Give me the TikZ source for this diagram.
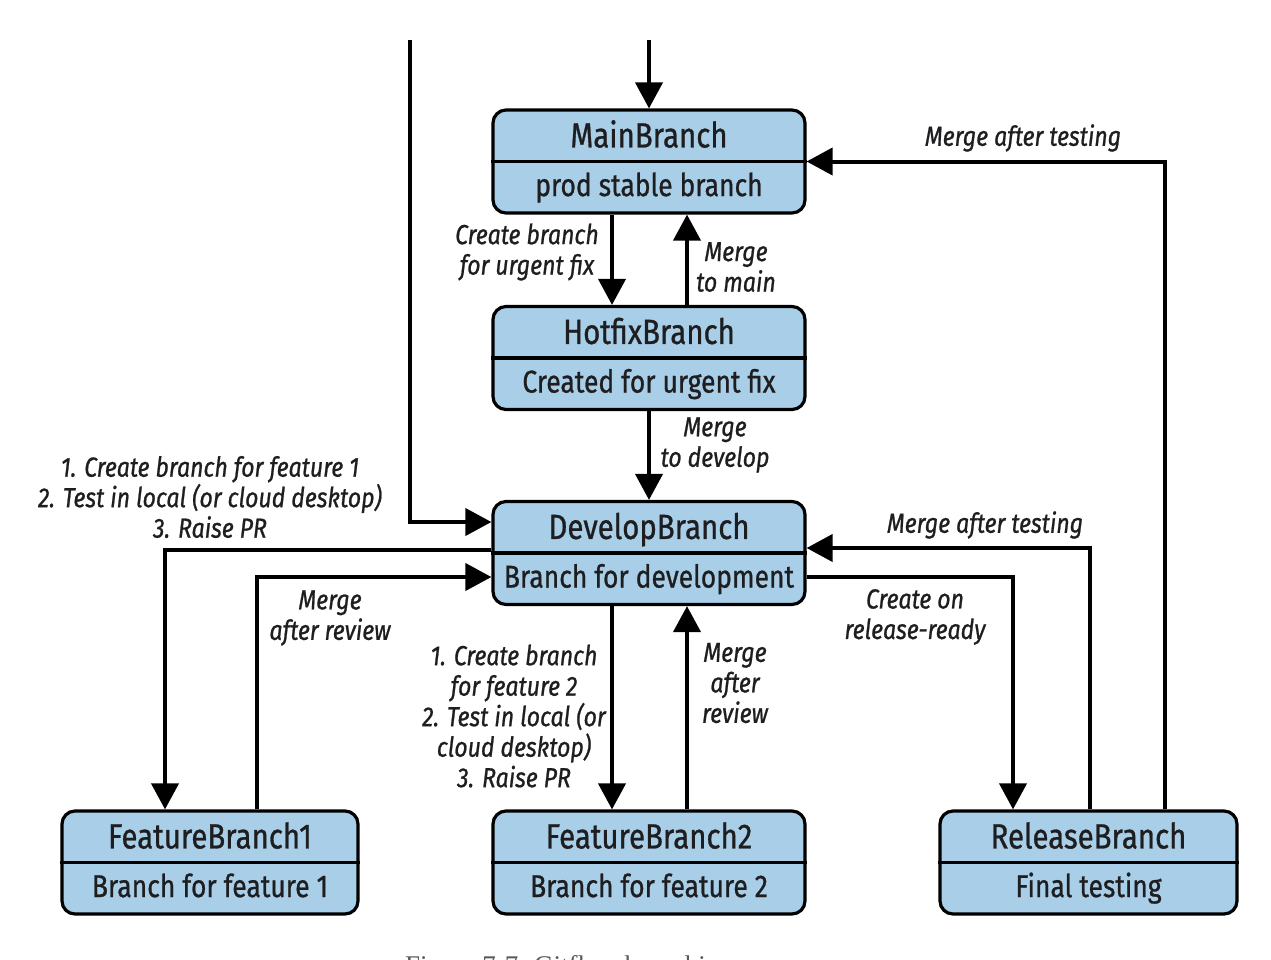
\documentclass[tikz,border=0pt]{standalone}
\usepackage{fontspec}
\setmainfont{Fira Sans}[FakeStretch=0.84, FakeBold=0.8]
\newfontfamily\capfont{Liberation Serif}
\usetikzlibrary{arrows.meta,calc}
\definecolor{boxfill}{RGB}{169,207,232}
\definecolor{inkdark}{RGB}{30,30,32}
\definecolor{capgray}{RGB}{90,90,90}
\tikzset{
  branchbox/.style={draw=black, line width=3.2pt, fill=boxfill, rounded corners=13pt,
    minimum height=103pt, inner sep=0pt},
  titletext/.style={text=inkdark, font=\fontsize{35}{40}\selectfont, inner sep=0pt,
    text height=25pt, text depth=0pt},
  subtext/.style={text=inkdark, font=\fontsize{31.5}{40}\selectfont, inner sep=0pt,
    text height=23pt, text depth=7pt},
  lbl/.style={text=inkdark, font=\fontsize{27.5}{30.5}\selectfont\itshape, align=center, inner sep=0pt},
  flow/.style={line width=4pt, -{Triangle[length=26pt,width=27pt]}},
}
% one branch: outlined box split in two halves, name on top, purpose below
\newcommand\branch[5]{%
  \node[branchbox, minimum width=#3] (#1) at (#2) {};
  \draw[line width=3.2pt] (#1.west) -- (#1.east);
  \node[titletext] (#1-name) at ($(#1.center)!0.5!(#1.north)$) {#4};
  \node[subtext] (#1-role) at ($(#1.center)!0.5!(#1.south)$) {#5};
}
\begin{document}
\begin{tikzpicture}[x=1pt, y=-1pt]
\useasboundingbox (0,0) rectangle (1271,959);
\fill[white] (0,0) rectangle (1271,959);

\branch{main}{649,161.5}{312pt}{MainBranch}{prod stable branch}
\branch{hot}{649,358}{312pt}{HotfixBranch}{Created for urgent fix}
\branch{dev}{649,553}{312pt}{DevelopBranch}{Branch for development}
\branch{fone}{210,862.5}{296pt}{FeatureBranch1}{Branch for feature 1}
\branch{ftwo}{649,862.5}{312pt}{FeatureBranch2}{Branch for feature 2}
\branch{rel}{1088.5,862.5}{297pt}{ReleaseBranch}{Final testing}

% incoming lines from above
\coordinate (topin) at (649,40);
\coordinate (sidein) at (410,40);
\draw[flow] (topin) -- (main.north);
\draw[flow] (sidein) |- ($(dev.west)+(0,-31)$);

% hotfix cycle
\draw[flow] ($(main.south)+(-37,0)$) -- ($(hot.north)+(-37,0)$);
\draw[flow] ($(hot.north)+(38,0)$) -- ($(main.south)+(38,0)$);
\draw[flow] (hot.south) -- (dev.north);

% feature 1
\draw[flow] ($(dev.west)+(0,-3)$) -| ($(fone.north)+(-45,0)$);
\draw[flow] ($(fone.north)+(47,0)$) |- ($(dev.west)+(0,24)$);

% feature 2
\draw[flow] ($(dev.south)+(-37,0)$) -- ($(ftwo.north)+(-37,0)$);
\draw[flow] ($(ftwo.north)+(38,0)$) -- ($(dev.south)+(38,0)$);

% release
\draw[flow] ($(dev.east)+(0,24)$) -| ($(rel.north)+(-75.5,0)$);
\draw[flow] ($(rel.north)+(1.5,0)$) |- ($(dev.east)+(0,-5)$);
\draw[flow] ($(rel.north)+(76.5,0)$) |- (main.east);

% connector labels
\node[lbl] (l-urgent) at (527,252) {Create branch\\for urgent fix};
\node[lbl] (l-tomain) at (736,267) {Merge\\to main};
\node[lbl] (l-todev) at (715,445) {Merge\\to develop};
\node[lbl] (l-f1steps) at (210,497) {1. Create branch for feature 1\\2. Test in local (or cloud desktop)\\3. Raise PR};
\node[lbl] (l-f1merge) at (330,618) {Merge\\after review};
\node[lbl] (l-f2steps) at (514,716) {1. Create branch\\for feature 2\\2. Test in local (or\\cloud desktop)\\3. Raise PR};
\node[lbl] (l-f2merge) at (735,683) {Merge\\after\\review};
\node[lbl] (l-relcreate) at (915,617) {Create on\\release-ready};
\node[lbl] (l-reldev) at (985,525) {Merge after testing};
\node[lbl] (l-relmain) at (1023,138) {Merge after testing};

% caption running off the lower edge
\begin{scope}
\clip (0,0) rectangle (1271,959);
\node[anchor=base west, inner sep=0pt, text=capgray, font=\capfont\fontsize{27}{30}\selectfont] (caption) at (405,974) {Figure 7-7. Gitflow branching};
\end{scope}
\end{tikzpicture}
\end{document}
